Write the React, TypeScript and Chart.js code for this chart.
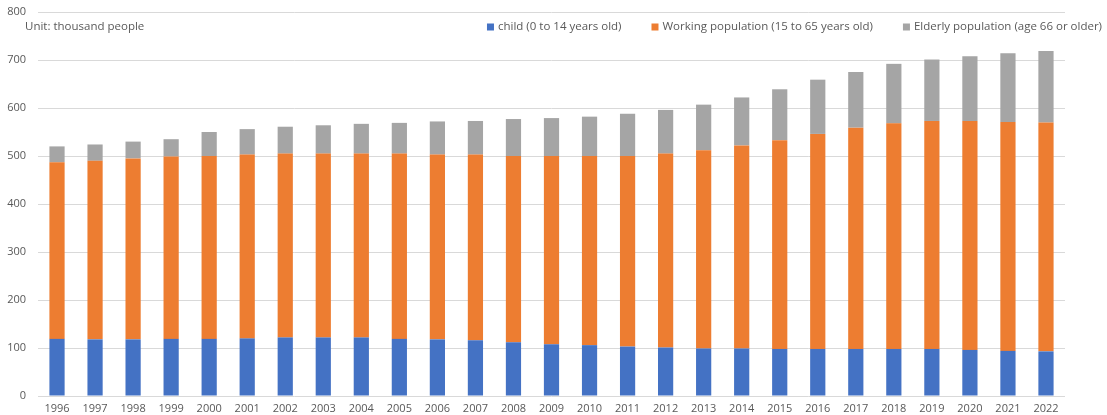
import React, { useEffect, useRef } from "react";
import { Chart, registerables } from "chart.js";

Chart.register(...registerables);

const years = [
  "1996", "1997", "1998", "1999", "2000", "2001", "2002", "2003", "2004",
  "2005", "2006", "2007", "2008", "2009", "2010", "2011", "2012", "2013",
  "2014", "2015", "2016", "2017", "2018", "2019", "2020", "2021", "2022",
];

// thousand people
const children = [
  119, 118, 118, 119, 119, 120, 122, 122, 122, 119, 118, 116, 112, 108,
  106, 103, 101, 99, 99, 98, 98, 98, 98, 98, 96, 94, 93,
];
const working = [
  368, 372, 377, 380, 381, 383, 383, 383, 383, 386, 385, 387, 388, 392,
  394, 397, 404, 413, 423, 435, 448, 461, 470, 475, 477, 477, 477,
];
const elderly = [
  33, 34, 35, 36, 50, 53, 56, 59, 62, 64, 69, 70, 77, 79,
  82, 88, 91, 95, 100, 106, 113, 116, 124, 128, 135, 143, 149,
];

const seriesLabels = [
  "child (0 to 14 years old)",
  "Working population (15 to 65 years old)",
  "Elderly population (age 66 or older)",
];
const seriesColors = ["#4472C4", "#ED7D31", "#A5A5A5"];
const unitText = "Unit: thousand people";
const yTicks = [0, 100, 200, 300, 400, 500, 600, 700, 800];

const FONT_FAMILY = "'Open Sans', 'DejaVu Sans', sans-serif";
const TEXT_COLOR = "#595959";

// Unit note and the series legend, drawn on one line inside the plot
const headerPlugin = {
  id: "headerText",
  afterDraw(chart: any) {
    const ctx = chart.ctx as CanvasRenderingContext2D;
    ctx.save();
    ctx.font = `11.5px ${FONT_FAMILY}`;
    ctx.fillStyle = TEXT_COLOR;
    ctx.textBaseline = "middle";
    ctx.textAlign = "left";
    const y = 27;
    ctx.fillText(unitText, 25, y);

    // legend, laid out right-to-left so it ends near the right edge
    const box = 7;
    const boxGap = 4;
    const itemGap = 30;
    let right = 1102;
    const positions: number[] = [];
    for (let i = seriesLabels.length - 1; i >= 0; i--) {
      const w = ctx.measureText(seriesLabels[i]).width;
      const start = right - w - boxGap - box;
      positions[i] = start;
      right = start - itemGap;
    }
    seriesLabels.forEach((label, i) => {
      const x = positions[i];
      ctx.fillStyle = seriesColors[i];
      ctx.fillRect(x, y - box / 2, box, box);
      ctx.fillStyle = TEXT_COLOR;
      ctx.fillText(label, x + box + boxGap, y);
    });
    ctx.restore();
  },
};

export default function App() {
  const canvasRef = useRef<HTMLCanvasElement | null>(null);

  useEffect(() => {
    document.body.style.margin = "0";
    const canvas = canvasRef.current;
    if (!canvas) return;
    const chart = new Chart(canvas, {
      type: "bar",
      data: {
        labels: years,
        datasets: [
          { label: seriesLabels[0], data: children, backgroundColor: seriesColors[0] },
          { label: seriesLabels[1], data: working, backgroundColor: seriesColors[1] },
          { label: seriesLabels[2], data: elderly, backgroundColor: seriesColors[2] },
        ],
      },
      options: {
        animation: false,
        responsive: false,
        maintainAspectRatio: false,
        layout: { padding: { left: 0, right: 42, top: 12, bottom: 0 } },
        datasets: {
          bar: { categoryPercentage: 1, barPercentage: 0.4 },
        },
        plugins: {
          legend: { display: false },
          tooltip: { enabled: false },
        },
        scales: {
          x: {
            stacked: true,
            grid: { display: false, drawTicks: false },
            border: { display: false },
            ticks: {
              color: TEXT_COLOR,
              font: { family: FONT_FAMILY, size: 11 },
              padding: 6,
              maxRotation: 0,
              autoSkip: false,
            },
            afterFit(scale: any) {
              scale.height = 19;
            },
          },
          y: {
            stacked: true,
            min: 0,
            max: 800,
            afterBuildTicks(scale: any) {
              scale.ticks = yTicks.map((v) => ({ value: v }));
            },
            grid: {
              color: "#D9D9D9",
              lineWidth: 1,
              drawTicks: true,
              tickLength: 12,
              tickColor: "rgba(0,0,0,0)",
            },
            border: { display: false },
            ticks: {
              color: TEXT_COLOR,
              font: { family: FONT_FAMILY, size: 11 },
              padding: 0,
            },
            afterFit(scale: any) {
              scale.width = 38;
            },
          },
        },
      },
      plugins: [headerPlugin],
    });
    return () => chart.destroy();
  }, []);

  return (
    <div style={{ width: 1107, height: 415 }}>
      <canvas ref={canvasRef} width={1107} height={415} style={{ display: "block" }} />
    </div>
  );
}
